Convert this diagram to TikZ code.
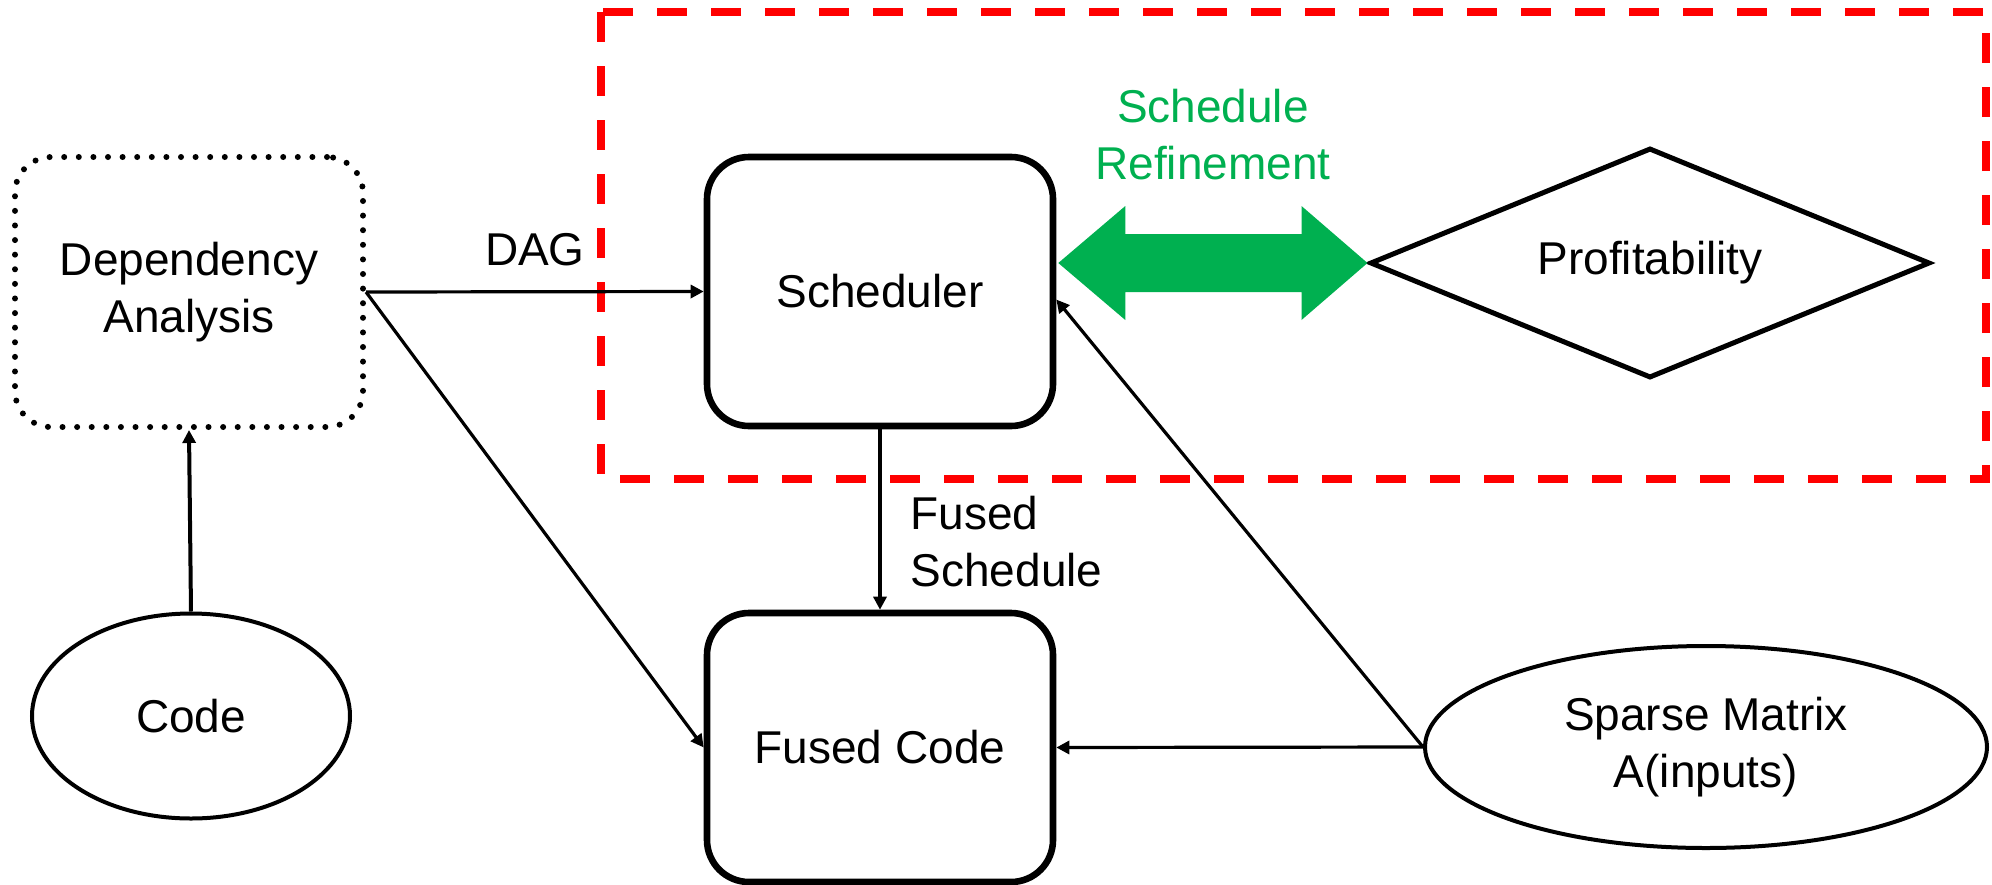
\documentclass[tikz,border=0pt]{standalone}
\usepackage{fontspec}
\setmainfont{Liberation Sans}
\usetikzlibrary{arrows.meta,shapes.geometric,calc}
\definecolor{refgreen}{RGB}{0,176,80}
\definecolor{refred}{RGB}{255,0,0}
\begin{document}
\begin{tikzpicture}[x=0.5pt,y=-0.5pt,
  lbl/.style={font=\fontsize{23}{28.5}\selectfont},
  procbox/.style={draw, line width=3.3pt, rounded corners=21pt,
    minimum width=173pt, minimum height=134.5pt, align=center, lbl},
  depbox/.style={draw, line width=3pt, dash pattern=on 0pt off 7.3pt,
    line cap=round, rounded corners=18pt, minimum width=174pt,
    minimum height=135pt, align=center, lbl},
  dataell/.style={draw, ellipse, line width=2pt, inner sep=0pt, align=center, lbl},
  decision/.style={draw, diamond, line width=2.5pt, shape aspect=2.4,
    minimum width=280pt, minimum height=115pt, inner sep=0pt, lbl},
  conn/.style={line width=1.6pt, -{Triangle[length=6.5pt,width=6.5pt]}},
  frame/.style={draw=refred, line width=4pt, dash pattern=on 15pt off 12pt}
]
\useasboundingbox (0,0) rectangle (1992,884);

% optimisation region
\draw[frame] (601,12) rectangle (1986,479);

% nodes
\node[depbox] (dep) at (189,292) {Dependency\\Analysis};
\node[procbox] (sched) at (880,291.5) {Scheduler};
\node[procbox] (fused) at (880,747.5) {Fused Code};
\node[decision] (prof) at (1650,263) {Profitability};
\node[dataell, minimum width=159pt, minimum height=102.5pt] (code) at (191,716) {Code};
\node[dataell, minimum width=281pt, minimum height=101pt] (sparse) at (1706,747) {Sparse Matrix\\A(inputs)};

% refinement loop between scheduler and profitability model
\coordinate (gl) at ($(sched.east |- prof.west)+(2,0)$);
\coordinate (gr) at (prof.west);
\fill[refgreen] (gl) -- ($(gl)+(67,-57)$) -- ($(gl)+(67,-29)$) -- ($(gr)+(-66,-29)$)
  -- ($(gr)+(-66,-57)$) -- (gr) -- ($(gr)+(-66,57)$) -- ($(gr)+(-66,29)$)
  -- ($(gl)+(67,29)$) -- ($(gl)+(67,57)$) -- cycle;
\node[lbl, text=refgreen, align=center, inner sep=0pt] (refine)
  at ($(gl)!0.5!(gr)+(0,-128)$) {Schedule\\Refinement};

% connectors
\draw[conn] (dep.east) -- node[lbl, midway, above=12pt, inner sep=0pt] (daglbl) {DAG} (sched.west);
\draw[conn] (dep.east) -- (fused.west);
\draw[conn, line width=2pt] (code.north) -- (dep.south);
\draw[conn] (sched.south) -- node[lbl, pos=0.62, anchor=west, xshift=14.5pt,
  inner sep=0pt, align=left] (fslbl) {Fused\\Schedule} (fused.north);
\draw[conn] (sparse.west) -- (fused.east);
\draw[conn] (sparse.west) -- ($(sched.east)+(0,8)$);
\end{tikzpicture}
\end{document}
